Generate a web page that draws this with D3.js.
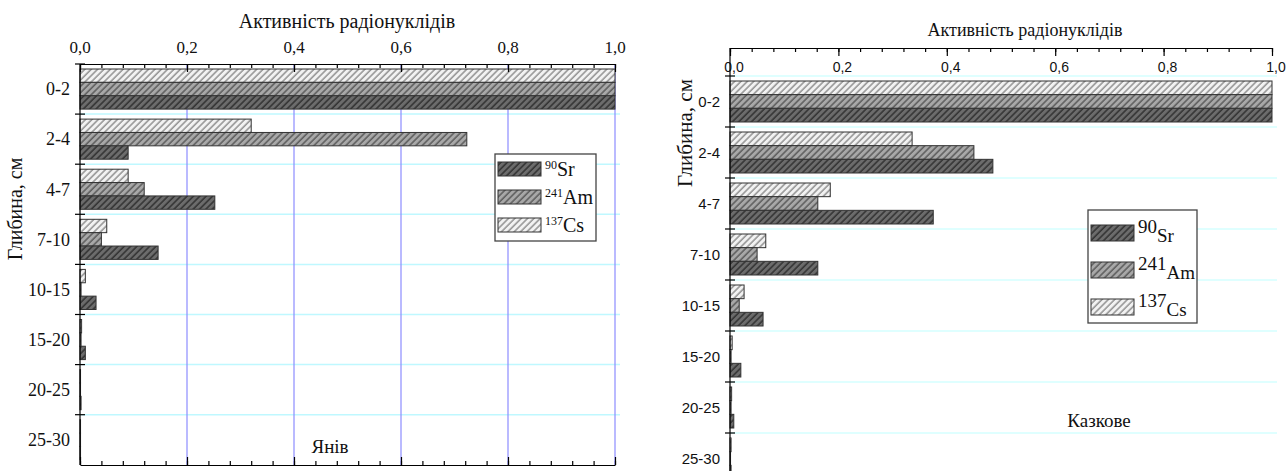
<!DOCTYPE html>
<html>
  <head>
    <meta charset="utf-8">
    <title>Активність радіонуклідів</title>
    <script src="https://d3js.org/d3.v7.min.js"></script>
    <style type="text/css">
      body { margin: 0; background: #ffffff; }
      .axis path, .axis line { stroke: #000; stroke-width: 1.2; }
    </style>
  </head>
  <body>
    <script>
      // Data
      var depths = ["0-2", "2-4", "4-7", "7-10", "10-15", "15-20", "20-25", "25-30"];
      var xTicks = [0, 0.2, 0.4, 0.6, 0.8, 1.0];

      var yanivSr = [1.0, 0.09, 0.252, 0.146, 0.03, 0.01, 0.002, 0.001];
      var yanivAm = [1.0, 0.723, 0.12, 0.04, 0.002, 0.002, 0.001, 0.001];
      var yanivCs = [1.0, 0.32, 0.09, 0.05, 0.01, 0.003, 0.001, 0.001];

      var kazkSr = [1.0, 0.485, 0.375, 0.162, 0.061, 0.02, 0.007, 0.002];
      var kazkAm = [1.0, 0.45, 0.162, 0.05, 0.017, 0.002, 0.002, 0.001];
      var kazkCs = [1.0, 0.336, 0.185, 0.066, 0.026, 0.004, 0.003, 0.002];

      var seriesKeys = ["Cs", "Am", "Sr"];
      var seriesMass = {Sr: "90", Am: "241", Cs: "137"};

      var SERIF = "'Liberation Serif', 'Times New Roman', Times, serif";
      var SANS = "'Liberation Sans', Arial, Helvetica, sans-serif";

      var svg = d3.select("body").append("svg")
                  .attr("width", 1287)
                  .attr("height", 471);

      // Hatch patterns for the three nuclides
      var patterns = {
        Sr: {fill: "#6c6c6c", line: "#2c2c2c"},
        Am: {fill: "#a8a8a8", line: "#555555"},
        Cs: {fill: "#f2f2f2", line: "#8a8a8a"}
      };
      var defs = svg.append("defs");
      Object.keys(patterns).forEach(function(k) {
          var p = defs.append("pattern")
                      .attr("id", "hatch" + k)
                      .attr("patternUnits", "userSpaceOnUse")
                      .attr("width", 4.5)
                      .attr("height", 4.5)
                      .attr("patternTransform", "rotate(45)");
          p.append("rect").attr("width", 4.5).attr("height", 4.5).attr("fill", patterns[k].fill);
          p.append("line").attr("x1", 1).attr("x2", 1).attr("y1", 0).attr("y2", 4.5)
           .attr("stroke", patterns[k].line).attr("stroke-width", 1.4);
      });

      function panel(cfg) {
          var g = svg.append("g");
          var x = d3.scaleLinear().domain([0, 1]).range([cfg.left, cfg.right]);
          var y = d3.scaleBand().domain(depths).range([cfg.catTop, cfg.catTop + cfg.step * depths.length]);
          var inner = d3.scaleBand().domain(seriesKeys).range([5, cfg.step - 5]);
          var minor = d3.range(0, 1.0001, 0.04);
          var values = {Sr: cfg.sr, Am: cfg.am, Cs: cfg.cs};

          // Horizontal cyan grid at the category boundaries
          g.selectAll(".hgrid")
           .data(depths.slice(1).concat(cfg.gridTop ? [depths[0]] : []))
           .enter().append("line")
           .attr("x1", cfg.left).attr("x2", cfg.right + 5)
           .attr("y1", function(d) { return y(d); })
           .attr("y2", function(d) { return y(d); })
           .attr("stroke", cfg.hColor).attr("stroke-width", 1.5);

          // Vertical blue grid
          if (cfg.vGrid) {
              g.selectAll(".vgrid").data(xTicks.slice(1)).enter().append("line")
               .attr("x1", function(d) { return x(d); })
               .attr("x2", function(d) { return x(d); })
               .attr("y1", cfg.axisTop).attr("y2", cfg.bottom)
               .attr("stroke", "#8c8cff").attr("stroke-width", 1.2);
          }

          // Bars
          seriesKeys.forEach(function(k) {
              g.selectAll(".bar" + k).data(depths).enter().append("rect")
               .attr("x", x(0))
               .attr("y", function(d) { return y(d) + inner(k); })
               .attr("width", function(d, i) { return x(values[k][i]) - x(0); })
               .attr("height", inner.bandwidth())
               .attr("fill", "url(#hatch" + k + ")")
               .attr("stroke", "#333")
               .attr("stroke-width", 1);
          });

          // Top axis, inward ticks
          g.append("g").attr("class", "axis")
           .attr("transform", "translate(0," + cfg.axisTop + ")")
           .call(d3.axisBottom(x).tickValues(minor).tickSize(4).tickFormat(""))
           .call(function(a) { a.select(".domain").remove(); });
          g.append("g").attr("class", "axis")
           .attr("transform", "translate(0," + cfg.axisTop + ")")
           .call(d3.axisBottom(x).tickValues(xTicks).tickSizeInner(8).tickSizeOuter(0).tickFormat(""));
          g.selectAll(".xlab").data(xTicks).enter().append("text")
           .style("font-family", cfg.tickFont)
           .attr("x", function(d) { return x(d) + cfg.tickDx; })
           .attr("y", cfg.tickLabelY)
           .attr("text-anchor", "middle")
           .attr("font-size", cfg.tickSize)
           .attr("fill", "#111")
           .text(function(d) { return d3.format(".1f")(d).replace(".", ","); });

          // Bottom axis (left chart only)
          if (cfg.bottomAxis) {
              g.append("g").attr("class", "axis")
               .attr("transform", "translate(0," + cfg.bottom + ")")
               .call(d3.axisTop(x).tickValues(minor).tickSize(4).tickFormat(""))
               .call(function(a) { a.select(".domain").remove(); });
              g.append("g").attr("class", "axis")
               .attr("transform", "translate(0," + cfg.bottom + ")")
               .call(d3.axisTop(x).tickValues(xTicks).tickSizeInner(8).tickSizeOuter(0).tickFormat(""));
          }

          // Left axis with crossing ticks at the category boundaries
          g.append("line")
           .attr("x1", cfg.left).attr("x2", cfg.left)
           .attr("y1", cfg.axisTop).attr("y2", cfg.bottom)
           .attr("stroke", "#000").attr("stroke-width", 1.2);
          g.selectAll(".ytick").data(depths.slice(1).concat([depths[0]])).enter().append("line")
           .attr("x1", cfg.left - 5).attr("x2", cfg.left + 5)
           .attr("y1", function(d) { return y(d); })
           .attr("y2", function(d) { return y(d); })
           .attr("stroke", "#000").attr("stroke-width", 1.2);
          g.selectAll(".ylab").data(depths).enter().append("text")
           .style("font-family", cfg.tickFont)
           .attr("x", cfg.left - 10)
           .attr("y", function(d) { return y(d) + cfg.step / 2; })
           .attr("dy", "0.35em")
           .attr("text-anchor", "end")
           .attr("font-size", cfg.catSize)
           .attr("fill", "#111")
           .text(function(d) { return d; });

          // Axis titles
          g.append("text").style("font-family", SERIF)
           .attr("x", cfg.titleX).attr("y", cfg.titleY)
           .attr("text-anchor", "middle")
           .attr("font-size", cfg.titleSize)
           .attr("fill", "#111")
           .text("Активність радіонуклідів");
          g.append("text").style("font-family", SERIF)
           .attr("transform", "translate(" + cfg.yTitleX + "," + cfg.yTitleY + ") rotate(-90)")
           .attr("text-anchor", "middle")
           .attr("dy", "0.35em")
           .attr("font-size", cfg.yTitleSize)
           .attr("fill", "#111")
           .text("Глибина, см");

          // Site name
          g.append("text").style("font-family", SERIF)
           .attr("x", cfg.nameX).attr("y", cfg.nameY)
           .attr("text-anchor", "middle")
           .attr("font-size", 19)
           .attr("fill", "#111")
           .text(cfg.name);

          // Legend
          var lg = cfg.legend;
          g.append("rect")
           .attr("x", lg.x).attr("y", lg.y).attr("width", lg.w).attr("height", lg.h)
           .attr("fill", "#fff").attr("stroke", "#444").attr("stroke-width", 1.3);
          ["Sr", "Am", "Cs"].forEach(function(k, i) {
              var cy = lg.y + lg.first + i * lg.gap;
              g.append("rect")
               .attr("x", lg.x + 3).attr("y", cy - lg.sw / 2)
               .attr("width", 43).attr("height", lg.sw)
               .attr("fill", "url(#hatch" + k + ")")
               .attr("stroke", "#333").attr("stroke-width", 1);
              var t = g.append("text").style("font-family", SERIF)
                       .attr("fill", "#111")
                       .attr("x", lg.x + 50).attr("y", cy + lg.baseDy);
              t.append("tspan").attr("font-size", lg.supSize).attr("dy", lg.supDy).text(seriesMass[k]);
              t.append("tspan").attr("font-size", lg.symSize).attr("dy", -lg.supDy + lg.symDy).text(k);
          });
      }

      // Янів (left)
      panel({
          left: 80, right: 615, axisTop: 64, bottom: 465,
          catTop: 64, step: 50.1, gridTop: false,
          hColor: "#bff8ff", vGrid: true, bottomAxis: true,
          tickFont: SERIF, tickSize: 17, tickLabelY: 53, tickDx: 0, catSize: 18,
          titleX: 347, titleY: 28, titleSize: 20,
          yTitleX: 15, yTitleY: 209, yTitleSize: 20,
          name: "Янів", nameX: 330, nameY: 453,
          sr: yanivSr, am: yanivAm, cs: yanivCs,
          legend: {x: 495, y: 154, w: 101, h: 87, first: 15, gap: 28, sw: 14,
                   baseDy: 7, supSize: 12, supDy: -7, symSize: 20, symDy: 0}
      });

      // Казкове (right)
      panel({
          left: 730, right: 1272, axisTop: 48, bottom: 480,
          catTop: 76, step: 51, gridTop: true,
          hColor: "#d4ffff", vGrid: false, bottomAxis: false,
          tickFont: SANS, tickSize: 14, tickLabelY: 72, tickDx: 4, catSize: 15,
          titleX: 1025, titleY: 36, titleSize: 18,
          yTitleX: 685, yTitleY: 133, yTitleSize: 21,
          name: "Казкове", nameX: 1099, nameY: 427,
          sr: kazkSr, am: kazkAm, cs: kazkCs,
          legend: {x: 1088, y: 210, w: 109, h: 113, first: 23, gap: 37, sw: 16,
                   baseDy: 0, supSize: 19, supDy: 0, symSize: 19, symDy: 9}
      });
    </script>
  </body>
</html>
